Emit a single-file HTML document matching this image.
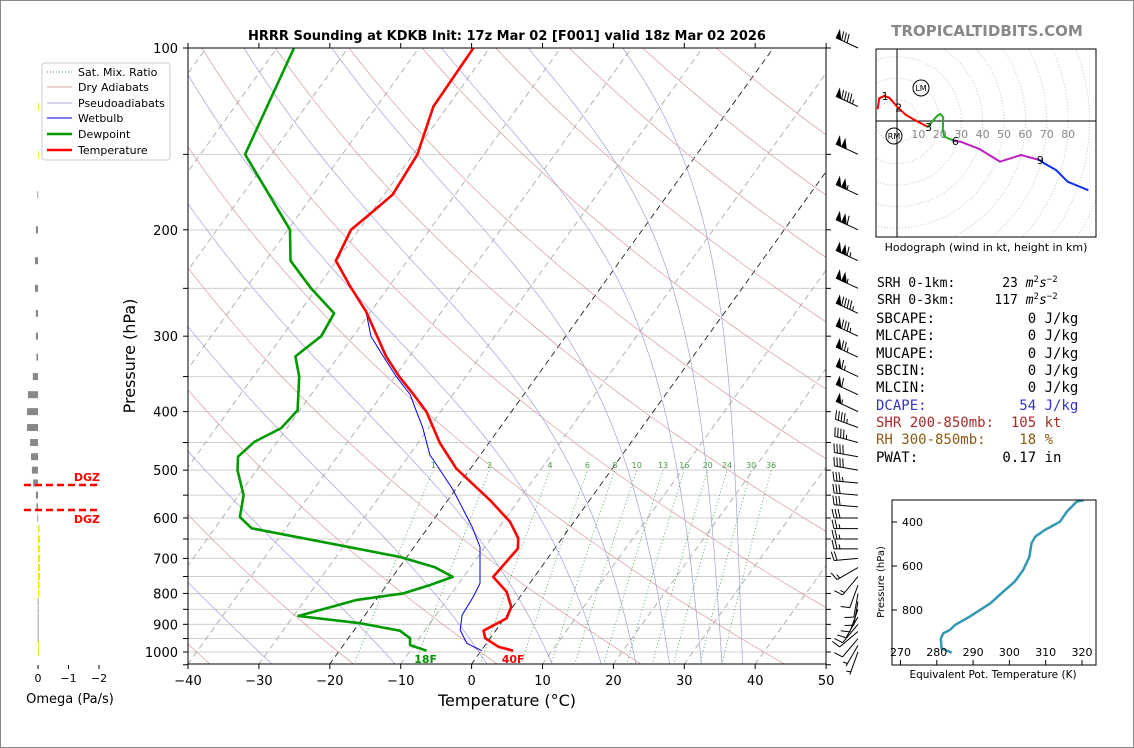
<!DOCTYPE html>
<html><head><meta charset="utf-8"><style>
html,body{margin:0;padding:0;background:#fff;}
svg{display:block;font-family:"DejaVu Sans","Liberation Sans",sans-serif;}
.mono{font-family:"DejaVu Sans Mono","Liberation Mono",monospace;white-space:pre;}
</style></head><body>
<svg id="chart" xmlns="http://www.w3.org/2000/svg" width="1134" height="748" viewBox="0 0 1134 748">
<rect x="0.5" y="0.5" width="1133" height="747" fill="#fff" stroke="#888"/>
<defs>
<clipPath id="plotclip"><rect x="188" y="48" width="638" height="616"/></clipPath>
<clipPath id="hodoclip"><rect x="876" y="49" width="220" height="188"/></clipPath>
<clipPath id="theclip"><rect x="892" y="500" width="204" height="165"/></clipPath>
</defs>
<text x="507" y="40" text-anchor="middle" font-size="13" font-weight="bold">HRRR Sounding at KDKB Init: 17z Mar 02 [F001] valid 18z Mar 02 2026</text>
<text x="987" y="36" text-anchor="middle" font-size="15" font-weight="bold" fill="#888">TROPICALTIDBITS.COM</text>
<g id="bg" clip-path="url(#plotclip)"></g>
<g id="traces" clip-path="url(#plotclip)"></g>
<g id="axes"></g>
<g id="barbs"></g>
<g id="omega"></g>
<g id="hodo"></g>
<g id="thetae"></g>
<g>
<rect x="42" y="63" width="128" height="97" rx="3" fill="#fff" stroke="#ccc"/>
<line x1="47" y1="72" x2="72" y2="72" stroke="#3a9a3a" stroke-dasharray="1,2" stroke-width="1"/>
<text x="78" y="76" font-size="11">Sat. Mix. Ratio</text>
<line x1="47" y1="87" x2="72" y2="87" stroke="#dba0a0" stroke-width="1"/>
<text x="78" y="91" font-size="11">Dry Adiabats</text>
<line x1="47" y1="103" x2="72" y2="103" stroke="#a8a8d8" stroke-width="1"/>
<text x="78" y="107" font-size="11">Pseudoadiabats</text>
<line x1="47" y1="118" x2="72" y2="118" stroke="#0000ee" stroke-width="1"/>
<text x="78" y="122" font-size="11">Wetbulb</text>
<line x1="47" y1="134" x2="72" y2="134" stroke="#009900" stroke-width="2.5"/>
<text x="78" y="138" font-size="11">Dewpoint</text>
<line x1="47" y1="150" x2="72" y2="150" stroke="#ff0000" stroke-width="2.5"/>
<text x="78" y="154" font-size="11">Temperature</text>
</g>
<g>
<text class="mono" x="877" y="287" font-size="13">SRH 0-1km:      23 <tspan font-style="italic">m</tspan><tspan font-size="9" dy="-5">2</tspan><tspan font-style="italic" dy="5">s</tspan><tspan font-size="9" dy="-5">−2</tspan></text>
<text class="mono" x="877" y="304" font-size="13">SRH 0-3km:     117 <tspan font-style="italic">m</tspan><tspan font-size="9" dy="-5">2</tspan><tspan font-style="italic" dy="5">s</tspan><tspan font-size="9" dy="-5">−2</tspan></text>
<text class="mono" x="876" y="323" font-size="14">SBCAPE:           0 J/kg</text>
<text class="mono" x="876" y="340" font-size="14">MLCAPE:           0 J/kg</text>
<text class="mono" x="876" y="358" font-size="14">MUCAPE:           0 J/kg</text>
<text class="mono" x="876" y="375" font-size="14">SBCIN:            0 J/kg</text>
<text class="mono" x="876" y="392" font-size="14">MLCIN:            0 J/kg</text>
<text class="mono" x="876" y="410" font-size="14" fill="#3333cc">DCAPE:           54 J/kg</text>
<text class="mono" x="876" y="427" font-size="14" fill="#aa2a2a">SHR 200-850mb:  105 kt</text>
<text class="mono" x="876" y="444" font-size="14" fill="#8b5a14">RH 300-850mb:    18 %</text>
<text class="mono" x="876" y="462" font-size="14">PWAT:          0.17 in</text>
</g>
</svg>
<script>
// ---------- data ----------
const tempP = [100,125,150,175,189,200,225,248,273,324,350,373,400,451,497,506,560,609,648,674,751,795,842,880,922,949,980,995];
const tempT = [-62.3,-62.0,-59.4,-58.8,-60.1,-61.1,-60.1,-55.5,-50.7,-43.3,-39.4,-35.8,-32.0,-26.9,-22.0,-20.8,-14.1,-9.0,-6.2,-5.2,-5.8,-2.4,-0.2,0.3,-1.7,-0.7,2.0,4.5];
const dewP = [100,150,200,225,250,275,300,324,350,398,426,449,475,500,550,598,624,696,724,751,775,800,820,872,896,922,949,974,995];
const dewT = [-87.6,-83.7,-69.7,-66.5,-60.8,-55.0,-54.5,-56.1,-53.5,-50.3,-50.8,-53.2,-54.0,-52.7,-49.3,-47.6,-44.8,-21.0,-15.0,-11.5,-13.9,-16.8,-22.7,-29.3,-19.9,-13.5,-11.3,-10.6,-7.7];
const wbP = [100,125,150,175,189,200,225,248,273,300,324,350,375,398,424,472,481,539,620,670,770,810,869,920,968,995];
const wbT = [-62.3,-62.0,-59.4,-58.8,-60.1,-61.1,-60.1,-55.5,-50.7,-47.5,-43.7,-39.8,-36.0,-33.6,-31.0,-27.1,-26.1,-20.3,-13.9,-10.7,-7.0,-6.6,-6.3,-5.05,-2.75,0.1];
const xTickLabels = [-40,-30,-20,-10,0,10,20,30,40,50];
const yTickLabels = [100,200,300,400,500,600,700,800,900,1000];
const mixRatios = [1,2,4,6,8,10,13,16,20,24,30,36];
const dryT0 = [-40,-20,0,20,40,60,80,100,120,140,160,180,200];
const moistT0 = [-100,-85,-70,-55,-42,-28,-10.6,2.3,11.5,18.4,23.3,28,32.5,35.4,38.3];
const barbP = [100,125,150,175,200,225,250,275,300,325,350,375,400,425,450,475,500,525,550,575,600,625,650,675,700,725,750,775,800,825,850,875,900,925,950,975,1000];
const barbSpd = [80,95,100,105,110,115,105,95,85,75,65,60,55,45,45,40,40,35,30,30,30,25,25,25,20,15,15,10,10,10,10,10,10,10,10,5,5];
const barbDir = [295,295,295,295,295,295,295,295,295,295,295,295,295,290,285,280,280,275,275,275,270,270,270,270,265,240,220,200,190,190,200,210,220,230,220,210,200];
const omegaP = [100,125,150,175,200,225,250,275,300,325,350,375,400,425,450,475,500,525,550,575,600,625,650,675,700,725,750,775,800,825,850,875,900,925,950,975,1000];
const omegaV = [0,-0.03,-0.02,0.02,0.07,0.1,0.1,0.07,0.07,0.05,0.17,0.33,0.36,0.36,0.26,0.23,0.2,0.16,0.07,0.05,0.02,-0.05,-0.06,-0.06,-0.06,-0.06,-0.06,-0.05,-0.04,0.01,0.01,0.01,0.01,0.01,0.01,-0.02,-0.03];
const dgzP = [529,582];
const hodoU = [-9.0,-8.3,-6.0,-3.6,0.3,4.2,8.9,14.3,18.7,20.2,21.6,21.4,22.1,26.8,29.9,38.5,48.1,57.9,66.5,68.8,74.3,79.8,89.1];
const hodoV = [5.9,10.6,11.7,10.9,6.4,2.8,0.1,-2.7,2.3,3.3,1.7,-4.2,-7.3,-9.3,-9.7,-13.1,-19.0,-15.9,-18.2,-19.8,-22.9,-28.4,-32.2];
const hodoZ = [0,0.8,1.0,1.3,2.0,2.4,2.7,3.0,3.4,3.7,4.0,4.8,5.3,6.0,6.3,7.0,7.6,8.2,9.0,9.3,10,11,12];
const hodoLabels = [1,2,3,6,9];
const hodoRings = [10,20,30,40,50,60,70,80,90,100,110,120];
const thetaP = [994,974,929,906,891,868,830,770,717,671,618,558,497,467,436,399,353,308,300];
const thetaE = [284.1,281.3,281.1,281.8,283.6,285.0,289.1,294.7,298.3,301.5,303.8,305.5,306.1,307.1,309.8,313.9,315.8,318.5,320.5];
const thetaXTicks = [270,280,290,300,310,320];
const thetaYTicks = [400,600,800];
const omegaTicks = [0,-1,-2];
const sfcLabels = ["18F","40F"];

// ---------- helpers ----------
const NS = "http://www.w3.org/2000/svg";
function mk(tag, parent, attrs){const e=document.createElementNS(NS,tag);for(const k in attrs)e.setAttribute(k,attrs[k]);parent.appendChild(e);return e;}
function yP(p){return 48+262.3*Math.log(p/100);}
function xT(T,p){return 188+7.09*(T+40)+0.72*(664-yP(p));}
function pts(P,T){return P.map((p,i)=>xT(T[i],p).toFixed(1)+","+yP(p).toFixed(1)).join(" ");}
const bg=document.getElementById("bg"), tr=document.getElementById("traces"), ax=document.getElementById("axes");
let el;

for(let p=100;p<=1050;p+=50){
  el=mk("line",bg,{x1:188,x2:826,y1:yP(p),y2:yP(p),stroke:"#cfcfcf","stroke-width":1});
  
  
}
for(let T=-130;T<=50;T+=10){
  const blk=(T===0||T===-20);
  el=mk("line",bg,{x1:xT(T,1050),y1:yP(1050),x2:xT(T,100),y2:yP(100),stroke:blk?"#222":"#aaa","stroke-width":0.9,"stroke-dasharray":"6,4"});
  
  
}
dryT0.forEach(t0=>{
  const P=[],T=[];
  for(let p=1050;p>=100;p-=10){P.push(p);T.push((t0+273.15)*Math.pow(p/1000,0.2857)-273.15);}
  el=mk("polyline",bg,{points:pts(P,T),fill:"none",stroke:"#d89a9a","stroke-width":0.7});
  
  
});
function es(tc){return 6.112*Math.exp(17.67*tc/(tc+243.5));}
moistT0.forEach(t0=>{
  const P=[],T=[];let t=t0+273.15;
  for(let p=1050;p>=100;p-=5){
    P.push(p);T.push(t-273.15);
    const e=es(t-273.15), rs=0.622*e/(p-e);
    const dTdp=(287.04*t+2.501e6*rs)/(p*(1005.7+2.501e6*2.501e6*rs*0.622/(287.04*t*t)));
    t-=dTdp*5;
  }
  el=mk("polyline",bg,{points:pts(P,T),fill:"none",stroke:"#a0a0d8","stroke-width":0.7});
  
  
});
mixRatios.forEach(w=>{
  const P=[],T=[];
  for(let p=1050;p>=500;p-=10){const e=w*p/(622+w);const a=Math.log(e/6.112);P.push(p);T.push(243.5*a/(17.67-a));}
  el=mk("polyline",bg,{points:pts(P,T),fill:"none",stroke:"#3a9a3a","stroke-width":0.8,"stroke-dasharray":"1,2.5"});
  
  
  const e=w*500/(622+w),a=Math.log(e/6.112),td=243.5*a/(17.67-a);
  el=mk("text",bg,{x:xT(td,500),y:yP(500)-2,"font-size":8,fill:"#4a9a4a","text-anchor":"middle"});
  el.textContent=w;
  
  
});
el=mk("polyline",tr,{points:pts(wbP,wbT),fill:"none",stroke:"#0000ee","stroke-width":1});


el=mk("polyline",tr,{points:pts(dewP,dewT),fill:"none",stroke:"#009900","stroke-width":2.6,"stroke-linejoin":"round"});


el=mk("polyline",tr,{points:pts(tempP,tempT),fill:"none",stroke:"#ff0000","stroke-width":2.6,"stroke-linejoin":"round"});


const sd=dewP.length-1, st=tempP.length-1;
el=mk("text",ax,{x:xT(dewT[sd],dewP[sd])-1,y:663,"font-size":11,"font-weight":"bold",fill:"#009900","text-anchor":"middle"});
el.textContent=sfcLabels[0];


el=mk("text",ax,{x:xT(tempT[st],tempP[st]),y:663,"font-size":11,"font-weight":"bold",fill:"#ff0000","text-anchor":"middle"});
el.textContent=sfcLabels[1];



el=mk("rect",ax,{x:188,y:48,width:638,height:616,fill:"none",stroke:"#000","stroke-width":1});


xTickLabels.forEach(v=>{
  const x=188+7.09*(v+40);
  mk("line",ax,{x1:x,x2:x,y1:664,y2:669,stroke:"#000"});
  mk("line",ax,{x1:x,x2:x,y1:48,y2:43,stroke:"#000"});
  el=mk("text",ax,{x:x,y:685,"font-size":13,"text-anchor":"middle"});
  el.textContent=v<0?"\u2212"+(-v):v;
  
  
});
for(let p=100;p<=1050;p+=50){
  mk("line",ax,{x1:183,x2:188,y1:yP(p),y2:yP(p),stroke:"#000"});
  mk("line",ax,{x1:826,x2:831,y1:yP(p),y2:yP(p),stroke:"#000"});
}
yTickLabels.forEach(p=>{
  el=mk("text",ax,{x:178,y:yP(p)+5,"font-size":13,"text-anchor":"end"});
  el.textContent=p;
  
  
});
el=mk("text",ax,{x:507,y:706,"font-size":16,"text-anchor":"middle"});
el.textContent="Temperature (°C)";


el=mk("text",ax,{x:135,y:356,"font-size":16,"text-anchor":"middle",transform:"rotate(-90 135 356)"});
el.textContent="Pressure (hPa)";



const bb=document.getElementById("barbs");
barbP.forEach((p,i)=>{
  const g=mk("g",bb,{stroke:"#000","stroke-width":1,fill:"#000"});
  
  
  const bx=858, by=yP(p), d=barbDir[i]*Math.PI/180;
  const ux=Math.sin(d), uy=-Math.cos(d), px=-uy, py=ux, L=24;
  const tx=bx+ux*L, ty=by+uy*L;
  mk("line",g,{x1:bx,y1:by,x2:tx,y2:ty});
  let s=barbSpd[i], pos=0;
  const nf=Math.floor(s/50); s-=nf*50; const nb=Math.floor(s/10); s-=nb*10; const nh=s>=5?1:0;
  for(let k=0;k<nf;k++){
    const a1=tx-ux*pos, b1=ty-uy*pos, a2=tx-ux*(pos+5), b2=ty-uy*(pos+5);
    mk("polygon",g,{points:a1+","+b1+" "+a2+","+b2+" "+(a1+px*8)+","+(b1+py*8)});
    pos+=6;
  }
  for(let k=0;k<nb;k++){
    const x1=tx-ux*pos,y1=ty-uy*pos;
    mk("line",g,{x1:x1,y1:y1,x2:x1+px*9+ux*2,y2:y1+py*9+uy*2});
    pos+=3;
  }
  if(nh){ if(pos===0)pos=3; const x1=tx-ux*pos,y1=ty-uy*pos; mk("line",g,{x1:x1,y1:y1,x2:x1+px*4.5+ux*1,y2:y1+py*4.5+uy*1}); }
});

const om=document.getElementById("omega");
const ox0=38, osc=30.5;
omegaP.forEach((p,i)=>{
  const v=omegaV[i]; if(v===0)return;
  const w=Math.abs(v)*osc, x=v>0?ox0-w:ox0;
  el=mk("rect",om,{x:x,y:yP(p)-3.5,width:Math.max(w,0.8),height:7,fill:v>0?"#888":"#f2e200"});
  
  
});
dgzP.forEach((p,i)=>{
  const y=yP(p);
  el=mk("line",om,{x1:24,x2:99,y1:y,y2:y,stroke:"#ff0000","stroke-width":2.5,"stroke-dasharray":"7,4"});
  
  
  el=mk("text",om,{x:100,y:i===0?y-4:y+13,"font-size":11,"font-weight":"bold",fill:"#ff0000","text-anchor":"end"});
  el.textContent="DGZ";
  
  
});
omegaTicks.forEach(v=>{
  const x=ox0-v*osc;
  mk("line",om,{x1:x,x2:x,y1:665,y2:669,stroke:"#000"});
  el=mk("text",om,{x:x,y:682,"font-size":11,"text-anchor":"middle"});
  el.textContent=v<0?"\u2212"+(-v):v;
  
  
});
el=mk("text",om,{x:70,y:703,"font-size":13,"text-anchor":"middle"});
el.textContent="Omega (Pa/s)";



const hd=document.getElementById("hodo");
const hx0=897, hy0=121, hk=2.14;
const hc=mk("g",hd,{"clip-path":"url(#hodoclip)"});
hodoRings.forEach(r=>{
  el=mk("circle",hc,{cx:hx0,cy:hy0,r:r*hk,fill:"none",stroke:"#bbb","stroke-width":0.8,"stroke-dasharray":"1,2"});
  
  
  if(r<=80){
    el=mk("text",hc,{x:hx0+r*hk,y:hy0+17,"font-size":11,fill:"#888","text-anchor":"middle"});
    el.textContent=r;
    
    
  }
});
mk("line",hc,{x1:hx0,x2:hx0,y1:49,y2:237,stroke:"#000","stroke-width":1});
mk("line",hc,{x1:876,x2:1096,y1:hy0,y2:hy0,stroke:"#000","stroke-width":1});
for(let i=0;i+1<hodoU.length;i++){
  const z=hodoZ[i], col=z<3?"#ff0000":z<6?"#22aa22":z<9?"#c020c0":"#1030ee";
  el=mk("line",hc,{x1:hx0+hodoU[i]*hk,y1:hy0-hodoV[i]*hk,x2:hx0+hodoU[i+1]*hk,y2:hy0-hodoV[i+1]*hk,stroke:col,"stroke-width":2,"stroke-linecap":"round"});
  
  
}
hodoLabels.forEach(h=>{
  const i=hodoZ.indexOf(h);
  el=mk("text",hc,{x:hx0+hodoU[i]*hk+1,y:hy0-hodoV[i]*hk+4,"font-size":11,"text-anchor":"middle"});
  el.textContent=h;
  
  
});
[["LM",921,88],["RM",894,136]].forEach(a=>{
  mk("circle",hc,{cx:a[1],cy:a[2],r:8,fill:"none",stroke:"#000","stroke-width":1});
  el=mk("text",hc,{x:a[1],y:a[2]+3,"font-size":8,"text-anchor":"middle"});
  el.textContent=a[0];
  
  
});
mk("rect",hd,{x:876,y:49,width:220,height:188,fill:"none",stroke:"#000"});
el=mk("text",hd,{x:986,y:251,"font-size":11,"text-anchor":"middle"});
el.textContent="Hodograph (wind in kt, height in km)";



const te=document.getElementById("thetae");
function tX(v){return 900.5+(v-270)*3.63;}
function tY(p){return 522+(p-400)*0.22;}
const tcg=mk("g",te,{"clip-path":"url(#theclip)"});
el=mk("polyline",tcg,{points:thetaP.map((p,i)=>tX(thetaE[i]).toFixed(1)+","+tY(p).toFixed(1)).join(" "),fill:"none",stroke:"#3399b3","stroke-width":2.5,"stroke-linejoin":"round"});


mk("rect",te,{x:892,y:500,width:204,height:165,fill:"none",stroke:"#000"});
thetaXTicks.forEach(v=>{
  mk("line",te,{x1:tX(v),x2:tX(v),y1:665,y2:660,stroke:"#000"});
  el=mk("text",te,{x:tX(v),y:656,"font-size":11,"text-anchor":"middle"});
  el.textContent=v;
  
  
});
thetaYTicks.forEach(p=>{
  mk("line",te,{x1:892,x2:897,y1:tY(p),y2:tY(p),stroke:"#000"});
  el=mk("text",te,{x:902,y:tY(p)+4,"font-size":11});
  el.textContent=p;
  
  
});
el=mk("text",te,{x:993,y:678,"font-size":10.5,"text-anchor":"middle"});
el.textContent="Equivalent Pot. Temperature (K)";


el=mk("text",te,{x:884,y:582,"font-size":10,"text-anchor":"middle",transform:"rotate(-90 884 582)"});
el.textContent="Pressure (hPa)";


</script>
</body></html>
